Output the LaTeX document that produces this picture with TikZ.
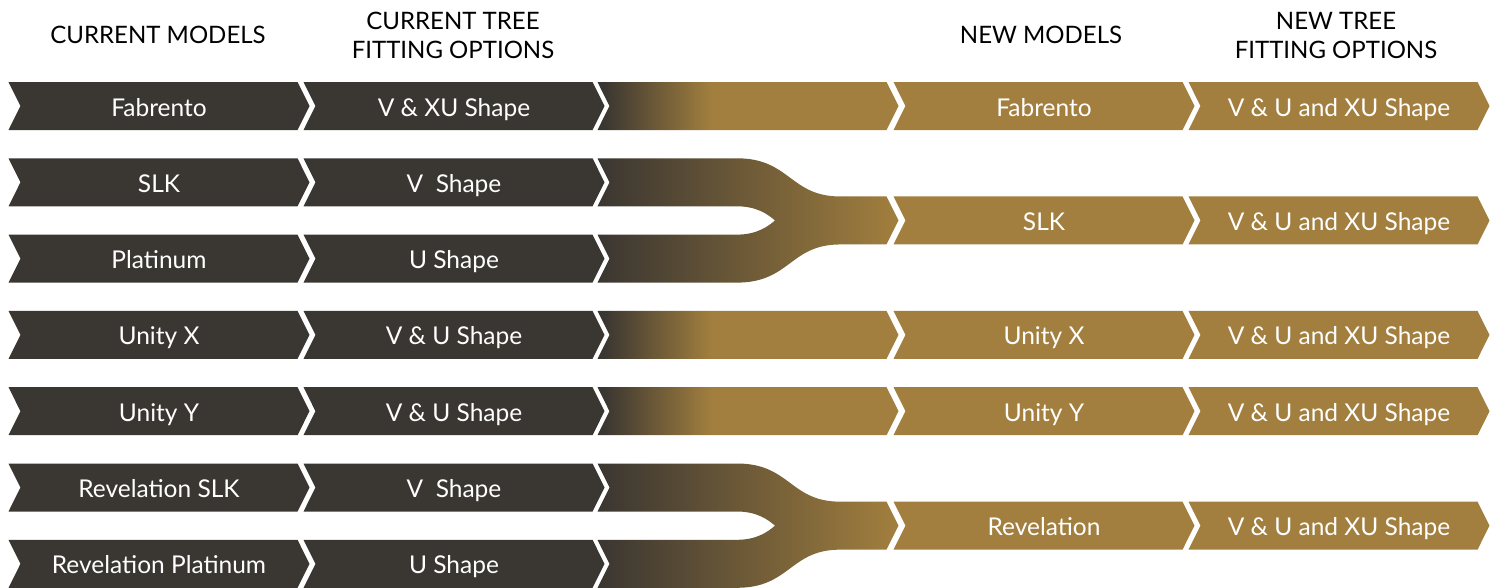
\documentclass[tikz,border=0pt]{standalone}
\usepackage{fontspec}
\newfontfamily\chevfont{Lato}
\usetikzlibrary{shapes.symbols}

\definecolor{chevdark}{RGB}{58,54,49}
\definecolor{chevgold}{RGB}{162,127,62}

% quick dark-to-gold fade for the straight links
\pgfdeclarehorizontalshading{linkfade}{100bp}{color(0bp)=(chevdark); color(26bp)=(chevdark); color(44bp)=(chevgold); color(100bp)=(chevgold)}

% two rows running into one (top y, bottom y, middle y)
\newcommand{\mergeband}[3]{%
  \path[left color=chevdark, right color=chevgold]
    (597.5,{#1-24}) -- (737,{#1-24})
    .. controls (790,{#1-24}) and (790,{#3-24}) .. (840,{#3-24})
    -- (886.5,{#3-24}) -- (898.5,#3) -- (886.5,{#3+24}) -- (840,{#3+24})
    .. controls (790,{#3+24}) and (790,{#2+24}) .. (737,{#2+24})
    -- (597.5,{#2+24}) -- (609.5,#2) -- (597.5,{#2-24}) -- (737,{#2-24})
    .. controls (757,{#2-24}) and (768,{#3+6}) .. (775,#3)
    .. controls (768,{#3-6}) and (757,{#1+24}) .. (737,{#1+24})
    -- (597.5,{#1+24}) -- (609.5,#1) -- cycle;}

\begin{document}
\begin{tikzpicture}[
    x = 1pt, y = -1pt, % pixel-like units, y downwards
    chev/.style = {shape = signal, signal from = west, signal to = east,
      signal pointer angle = 127, minimum width = 301pt, minimum height = 48pt,
      inner sep = 0pt, text = white, text height = 20pt, text depth = 0pt,
      font = \chevfont\fontsize{24.5}{28}\selectfont},
    oldchev/.style = {chev, fill = chevdark},
    newchev/.style = {chev, fill = chevgold},
    linkchev/.style = {chev, shading = linkfade},
    head/.style = {align = center, font = \chevfont\fontsize{24}{29}\selectfont}
    ]

    \useasboundingbox (0,0) rectangle (1496,587);

    % headings
    \node[head] (h-cur) at (158,35) {CURRENT MODELS};
    \node[head] (h-curfit) at (453,35) {CURRENT TREE\\FITTING OPTIONS};
    \node[head] (h-new) at (1041,35) {NEW MODELS};
    \node[head] (h-newfit) at (1336,35) {NEW TREE\\FITTING OPTIONS};

    % current models
    \node[oldchev] (fab-cur) at (159,106) {Fabrento};
    \node[oldchev] (slk-cur) at (159,182.3) {SLK};
    \node[oldchev] (plat-cur) at (159,258.6) {Platinum};
    \node[oldchev] (ux-cur) at (159,334.9) {Unity X};
    \node[oldchev] (uy-cur) at (159,411.2) {Unity Y};
    \node[oldchev] (rslk-cur) at (159,487.5) {Revelation SLK};
    \node[oldchev] (rplat-cur) at (159,563.8) {Revelation Platinum};

    % current fitting options
    \node[oldchev] (fab-fit) at (454,106) {V \& XU Shape};
    \node[oldchev] (slk-fit) at (454,182.3) {V\ \ Shape};
    \node[oldchev] (plat-fit) at (454,258.6) {U Shape};
    \node[oldchev] (ux-fit) at (454,334.9) {V \& U Shape};
    \node[oldchev] (uy-fit) at (454,411.2) {V \& U Shape};
    \node[oldchev] (rslk-fit) at (454,487.5) {V\ \ Shape};
    \node[oldchev] (rplat-fit) at (454,563.8) {U Shape};

    % links between old and new
    \node[linkchev] (fab-link) at (748,106) {};
    \node[linkchev] (ux-link) at (748,334.9) {};
    \node[linkchev] (uy-link) at (748,411.2) {};
    \mergeband{182.3}{258.6}{220.45}
    \mergeband{487.5}{563.8}{525.65}

    % new models
    \node[newchev] (fab-new) at (1044,106) {Fabrento};
    \node[newchev] (slk-new) at (1044,220.45) {SLK};
    \node[newchev] (ux-new) at (1044,334.9) {Unity X};
    \node[newchev] (uy-new) at (1044,411.2) {Unity Y};
    \node[newchev] (rev-new) at (1044,525.65) {Revelation};

    % new fitting options
    \node[newchev] (fab-nfit) at (1339,106) {V \& U and XU Shape};
    \node[newchev] (slk-nfit) at (1339,220.45) {V \& U and XU Shape};
    \node[newchev] (ux-nfit) at (1339,334.9) {V \& U and XU Shape};
    \node[newchev] (uy-nfit) at (1339,411.2) {V \& U and XU Shape};
    \node[newchev] (rev-nfit) at (1339,525.65) {V \& U and XU Shape};
\end{tikzpicture}
\end{document}
